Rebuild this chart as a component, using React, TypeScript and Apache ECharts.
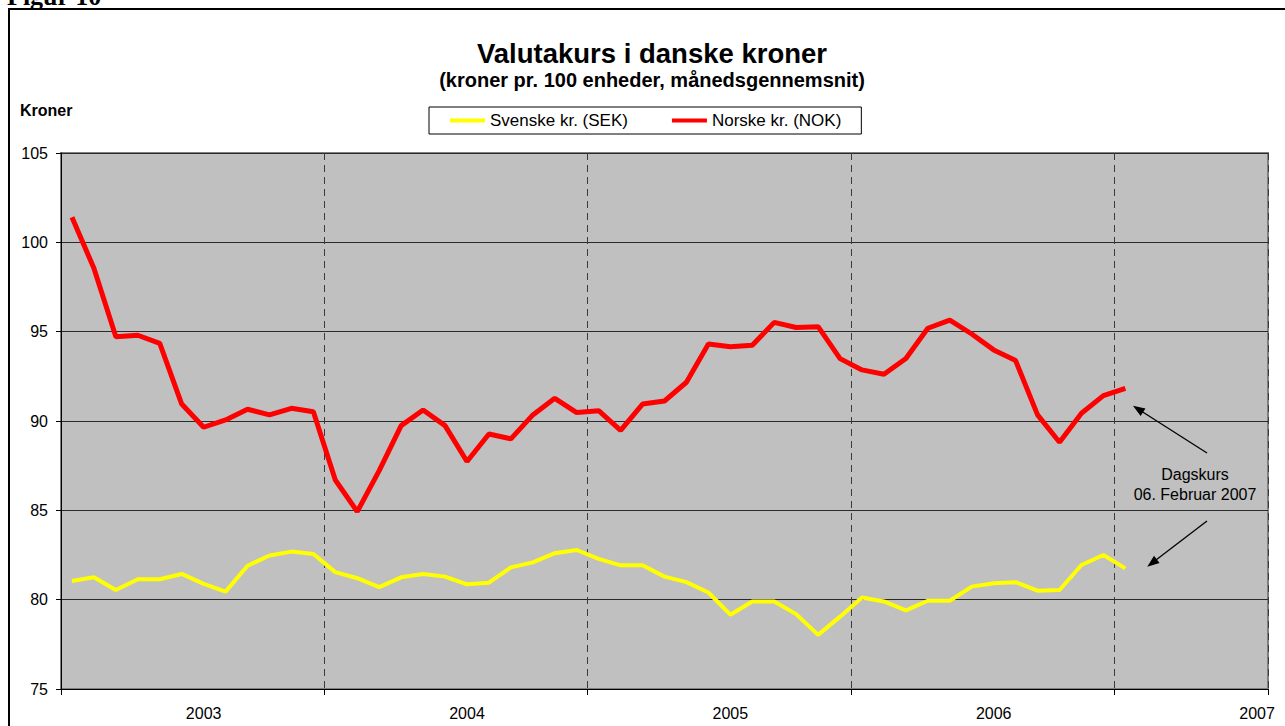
import React, { useEffect, useRef } from "react";
import * as echarts from "echarts";

const years = ["2003", "2004", "2005", "2006", "2007"];
const monthsShown = 55; // Jan 2003 .. Jul 2007
const categories: string[] = [];
for (let i = 0; i < monthsShown; i++) {
  const y = years[Math.floor(i / 12)];
  const m = String((i % 12) + 1).padStart(2, "0");
  categories.push(`${y}-${m}`);
}

const sek = [
  81.05, 81.25, 80.54, 81.14, 81.14, 81.44, 80.88, 80.45, 81.9, 82.47, 82.69, 82.56,
  81.54, 81.2, 80.7, 81.25, 81.44, 81.29, 80.86, 80.95, 81.81, 82.09, 82.6, 82.78,
  82.28, 81.92, 81.93, 81.29, 80.98, 80.4, 79.16, 79.9, 79.9, 79.19, 78.03, 79.05,
  80.12, 79.9, 79.4, 79.94, 79.94, 80.73, 80.92, 80.98, 80.5, 80.54, 81.94, 82.5,
  81.75,
];

const nok = [
  101.4, 98.55, 94.72, 94.8, 94.35, 90.95, 89.65, 90.06, 90.66, 90.34, 90.71, 90.52,
  86.7, 84.93, 87.22, 89.74, 90.62, 89.74, 87.73, 89.27, 89.0, 90.34, 91.27, 90.47,
  90.58, 89.48, 90.95, 91.12, 92.17, 94.31, 94.16, 94.24, 95.52, 95.23, 95.28, 93.49,
  92.86, 92.62, 93.5, 95.19, 95.65, 94.87, 93.98, 93.38, 90.34, 88.81, 90.43, 91.42,
  91.83,
];

const seriesNames = ["Svenske kr. (SEK)", "Norske kr. (NOK)"];
const yMin = 75;
const yMax = 105;
const yStep = 5;

const ARIAL = "'Liberation Sans', Arial, sans-serif";

export default function App() {
  const ref = useRef<HTMLDivElement>(null);
  useEffect(() => {
    if (!ref.current) return;
    const chart = echarts.init(ref.current, undefined, { renderer: "svg" });
    chart.setOption({
      animation: false,
      backgroundColor: "#ffffff",
      textStyle: { fontFamily: ARIAL },
      graphic: [
        {
          type: "rect",
          shape: { x: 9, y: 9, width: 1400, height: 800 },
          style: { fill: "none", stroke: "#000", lineWidth: 2 },
          z: 0,
        },
        {
          type: "text",
          x: 7,
          y: 9,
          style: {
            text: "Figur 10",
            font: "bold 26px 'Liberation Serif', 'Times New Roman', serif",
            fill: "#000",
            verticalAlign: "bottom",
          },
        },
        {
          type: "text",
          x: 652,
          y: 53,
          style: {
            text: "Valutakurs i danske kroner",
            font: `bold 27.5px ${ARIAL}`,
            fill: "#000",
            align: "center",
            verticalAlign: "middle",
          },
        },
        {
          type: "text",
          x: 652,
          y: 80,
          style: {
            text: "(kroner pr. 100 enheder, månedsgennemsnit)",
            font: `bold 20px ${ARIAL}`,
            fill: "#000",
            align: "center",
            verticalAlign: "middle",
          },
        },
        {
          type: "text",
          x: 20,
          y: 110,
          style: {
            text: "Kroner",
            font: `bold 16px ${ARIAL}`,
            fill: "#000",
            align: "left",
            verticalAlign: "middle",
          },
        },
        {
          type: "text",
          x: 1195,
          y: 484,
          style: {
            text: "Dagskurs\n06. Februar 2007",
            font: `16px ${ARIAL}`,
            fill: "#000",
            align: "center",
            verticalAlign: "middle",
            lineHeight: 20,
          },
          z: 10,
        },
      ],
      legend: {
        left: 429,
        top: 107,
        orient: "horizontal",
        backgroundColor: "#fff",
        borderColor: "#000",
        borderWidth: 1,
        borderRadius: 0,
        padding: [5, 20, 5, 21],
        itemGap: 44,
        itemWidth: 35,
        itemHeight: 4,
        icon: "rect",
        textStyle: { fontSize: 17, color: "#000", fontFamily: ARIAL, lineHeight: 16 },
        data: seriesNames,
      },
      grid: {
        left: 61,
        top: 153,
        width: 1207,
        height: 536,
        show: true,
        backgroundColor: "#C0C0C0",
        borderColor: "#808080",
        borderWidth: 2,
      },
      xAxis: {
        type: "category",
        data: categories,
        boundaryGap: true,
        axisLine: { show: true, lineStyle: { color: "#000", width: 1 } },
        axisTick: {
          show: true,
          length: 6,
          interval: (i: number) => i % 12 === 0,
          lineStyle: { color: "#000" },
        },
        splitLine: {
          show: true,
          interval: (i: number) => i % 12 === 0,
          lineStyle: { color: "#3a3a3a", type: [7, 5], width: 1 },
        },
        axisLabel: {
          interval: (i: number) => i % 12 === 6,
          formatter: (v: string) => v.slice(0, 4),
          fontSize: 16,
          color: "#000",
          margin: 16,
          fontFamily: ARIAL,
        },
      },
      yAxis: {
        type: "value",
        min: yMin,
        max: yMax,
        interval: yStep,
        axisLine: { show: true, lineStyle: { color: "#000", width: 1 } },
        axisTick: { show: true, length: 5, lineStyle: { color: "#000" } },
        splitLine: { show: true, lineStyle: { color: "#2a2a2a", width: 1 } },
        axisLabel: { fontSize: 16, color: "#000", margin: 13, fontFamily: ARIAL },
      },
      series: [
        {
          name: seriesNames[0],
          type: "line",
          data: sek,
          symbol: "none",
          color: "#FFFF00",
          lineStyle: { color: "#FFFF00", width: 4 },
          z: 3,
        },
        {
          name: seriesNames[1],
          type: "line",
          data: nok,
          symbol: "none",
          color: "#FF0000",
          lineStyle: { color: "#FF0000", width: 5 },
          z: 4,
          markLine: {
            silent: true,
            symbol: ["none", "triangle"],
            symbolSize: [9, 12],
            label: { show: false },
            lineStyle: { color: "#000", width: 1.3, type: "solid" },
            data: [
              [
                { x: 1207, y: 453 },
                { x: 1138, y: 409 },
              ],
              [
                { x: 1207, y: 521 },
                { x: 1152, y: 563 },
              ],
            ],
          },
        },
      ],
    });
    return () => chart.dispose();
  }, []);
  return (
    <div
      ref={ref}
      style={{ position: "absolute", left: 0, top: 0, width: 1285, height: 726 }}
    />
  );
}
